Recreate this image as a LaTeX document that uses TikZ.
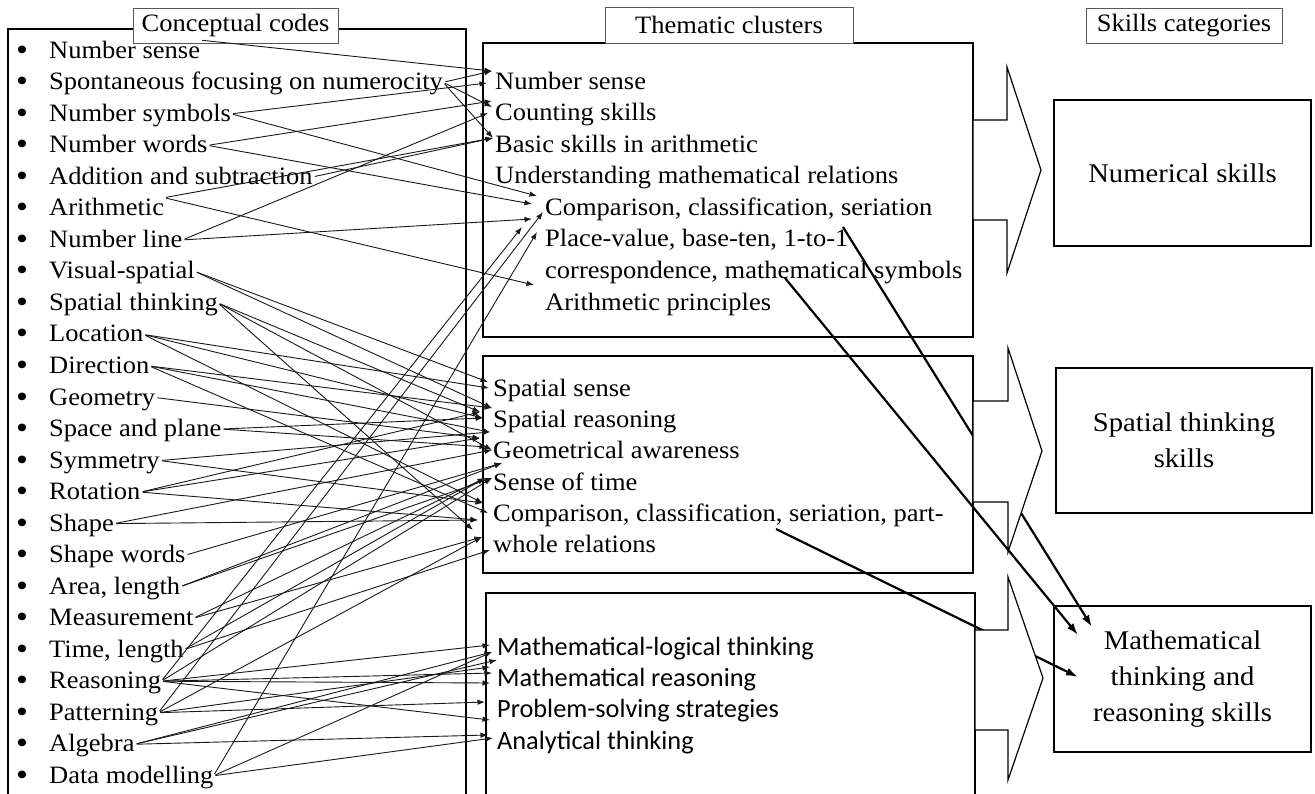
\documentclass[tikz,border=0pt]{standalone}
\usepackage{fontspec}
\setmainfont[FakeStretch=1.06]{Liberation Serif}
\newfontfamily\clusterfont{Carlito}
\usetikzlibrary{arrows.meta}

\begin{document}
\begin{tikzpicture}[x=1pt,y=-1pt,
  txt/.style={anchor=base west, inner sep=0pt, text height=18pt, text depth=3pt,
              font=\fontsize{25}{30}\selectfont},
  sanstxt/.style={txt, font=\clusterfont\fontsize{26.3}{30}\selectfont},
  dot/.style={anchor=base, inner sep=0pt, font=\fontsize{32}{36}\selectfont},
  frame/.style={line width=1.3pt},
  tag/.style={draw=black!65, line width=0.8pt, fill=white, inner sep=0pt,
              font=\fontsize{25}{30}\selectfont},
  catbox/.style={draw, line width=1.3pt, align=center, inner sep=0pt,
                 font=\fontsize{27}{36}\selectfont},
  link/.style={draw=black!90, line width=0.9pt, -{Latex[length=7.5pt,width=5.5pt]}, shorten <=2pt},
  biglink/.style={line width=2.2pt, -{Latex[length=12pt,width=8pt]}},
  blockarrow/.style={draw, line width=1.2pt, fill=white, line join=miter}
]
\useasboundingbox (0,0) rectangle (1315,793);

% column frames
\draw[frame] (8,800) -- (8,29) -- (466,29) -- (466,800);
\draw[frame] (483,43) rectangle (973,337);
\draw[frame] (483,356) rectangle (973,573);
\draw[frame] (486,800) -- (486,593) -- (975,593) -- (975,800);

% column headings
\node[tag, minimum width=205pt, minimum height=35pt] (hdA) at (235.5,25.5) {Conceptual codes};
\node[tag, minimum width=248pt, minimum height=36pt] (hdB) at (729,25) {Thematic clusters};
\node[tag, minimum width=196pt, minimum height=35pt] (hdC) at (1184,25.5) {Skills categories};

% conceptual codes
\foreach \t [count=\i from 0] in {Number sense, Spontaneous focusing on numerocity,
  Number symbols, Number words, Addition and subtraction, Arithmetic, Number line,
  Visual-spatial, Spatial thinking, Location, Direction, Geometry, Space and plane,
  Symmetry, Rotation, Shape, Shape words, {Area, length}, Measurement, {Time, length},
  Reasoning, Patterning, Algebra, Data modelling}{
  \node[dot] (bl\i) at (22,{60.3+31.52*\i}) {•};
  \node[txt] (ls\i) at (49,{58.3+31.52*\i}) {\t};
}

% thematic clusters: numbers
\node[txt] (m0) at (495,89.3) {Number sense};
\node[txt] (m1) at (495,120.8) {Counting skills};
\node[txt] (m2) at (495,152.3) {Basic skills in arithmetic};
\node[txt] (m3) at (495,183.8) {Understanding mathematical relations};
\node[txt] (m4) at (545,215.4) {Comparison, classification, seriation};
\node[txt] (m5) at (545,246.9) {Place-value, base-ten, 1-to-1};
\node[txt] (m6) at (545,278.4) {correspondence, mathematical symbols};
\node[txt] (m7) at (545,310) {Arithmetic principles};

% thematic clusters: space
\node[txt] (n0) at (493,396.7) {Spatial sense};
\node[txt] (n1) at (493,427.5) {Spatial reasoning};
\node[txt] (n2) at (493,458.5) {Geometrical awareness};
\node[txt] (n3) at (493,490) {Sense of time};
\node[txt] (n4) at (493,521.5) {Comparison, classification, seriation, part-};
\node[txt] (n5) at (493,552.7) {whole relations};

% thematic clusters: reasoning
\node[sanstxt] (p0) at (497,655) {Mathematical-logical thinking};
\node[sanstxt] (p1) at (497,686.5) {Mathematical reasoning};
\node[sanstxt] (p2) at (497,717.8) {Problem-solving strategies};
\node[sanstxt] (p3) at (497,749) {Analytical thinking};

% skills categories
\node[catbox, minimum width=257pt, minimum height=146pt] (r1) at (1182.5,173) {Numerical skills};
\node[catbox, minimum width=256pt, minimum height=145pt] (r2) at (1184,440.5) {Spatial thinking\\skills};
\node[catbox, minimum width=257pt, minimum height=146pt] (r3) at (1182.5,679) {Mathematical\\thinking and\\reasoning skills};

% arrow tips in the number cluster
\coordinate (a1) at (492,71);  \coordinate (a2) at (487,83);
\coordinate (a3) at (492,101); \coordinate (a4) at (492,107);
\coordinate (a5) at (488,113); \coordinate (a6) at (493,138);
\coordinate (a7) at (537,196); \coordinate (a8) at (532,204);
\coordinate (a9) at (532,219); \coordinate (a10) at (543,212);
\coordinate (a11) at (522,227); \coordinate (a12) at (537,232);
\coordinate (a13) at (534,285);

% arrow tips in the space cluster
\coordinate (b1) at (488,382);  \coordinate (b2) at (489,388);
\coordinate (b3) at (492,408);  \coordinate (b4) at (480,412);
\coordinate (b5) at (483,418);  \coordinate (b6) at (490,432);
\coordinate (b7) at (480,438);  \coordinate (b8) at (487,447);
\coordinate (b9) at (492,450);  \coordinate (b10) at (502,463);
\coordinate (b11) at (485,478); \coordinate (b12) at (492,478);
\coordinate (b13) at (483,503); \coordinate (b14) at (488,513);
\coordinate (b15) at (478,520); \coordinate (b16) at (473,530);
\coordinate (b17) at (482,537); \coordinate (b18) at (490,550);

% arrow tips in the reasoning cluster
\coordinate (c1) at (490,645); \coordinate (c2) at (492,652);
\coordinate (c3) at (497,660); \coordinate (c4) at (490,667);
\coordinate (c5) at (492,673); \coordinate (c6) at (490,683);
\coordinate (c7) at (485,702); \coordinate (c8) at (490,720);
\coordinate (c9) at (488,735); \coordinate (c10) at (493,738);

% codes -> number cluster
\draw[link] (ls0.north east) -- (a1);
\draw[link] (ls1.east) -- (a1);
\draw[link] (ls1.east) -- (a4);
\draw[link] (ls1.east) -- (a6);
\draw[link] (ls2.east) -- (a2);
\draw[link] (ls2.east) -- (a7);
\draw[link] (ls3.east) -- (a3);
\draw[link] (ls3.east) -- (a8);
\draw[link] (ls4.east) -- (a6);
\draw[link] (ls5.north east) -- (a6);
\draw[link] (ls5.north east) -- (a13);
\draw[link] (ls6.east) -- (a5);
\draw[link] (ls6.east) -- (a9);
\draw[link] (ls21.east) -- (a10);
\draw[link] (ls20.east) -- (a11);
\draw[link] (ls23.east) -- (a12);

% codes -> space cluster
\draw[link] (ls7.east) -- (b1);
\draw[link] (ls7.east) -- (b3);
\draw[link] (ls8.east) -- (b4);
\draw[link] (ls8.east) -- (b9);
\draw[link] (ls8.east) -- (b16);
\draw[link] (ls9.east) -- (b2);
\draw[link] (ls9.east) -- (b5);
\draw[link] (ls9.east) -- (b13);
\draw[link] (ls10.east) -- (b3);
\draw[link] (ls10.east) -- (b6);
\draw[link] (ls10.east) -- (b14);
\draw[link] (ls11.east) -- (b7);
\draw[link] (ls12.east) -- (b5);
\draw[link] (ls12.east) -- (b8);
\draw[link] (ls13.east) -- (b13);
\draw[link] (ls13.east) -- (b6);
\draw[link] (ls14.east) -- (b4);
\draw[link] (ls14.east) -- (b7);
\draw[link] (ls14.east) -- (b15);
\draw[link] (ls15.east) -- (b15);
\draw[link] (ls15.east) -- (b9);
\draw[link] (ls16.east) -- (b10);
\draw[link] (ls17.east) -- (b10);
\draw[link] (ls17.east) -- (b12);
\draw[link] (ls18.east) -- (b11);
\draw[link] (ls18.east) -- (b17);
\draw[link] (ls19.east) -- (b11);
\draw[link] (ls19.east) -- (b18);
\draw[link] (ls20.east) -- (b12);
\draw[link] (ls21.east) -- (b17);

% codes -> reasoning cluster
\draw[link] (ls20.east) -- (c1);
\draw[link] (ls20.east) -- (c5);
\draw[link] (ls20.east) -- (c6);
\draw[link] (ls20.east) -- (c8);
\draw[link] (ls21.east) -- (c7);
\draw[link] (ls21.east) -- (c4);
\draw[link] (ls22.east) -- (c2);
\draw[link] (ls22.east) -- (c3);
\draw[link] (ls22.east) -- (c9);
\draw[link] (ls23.east) -- (c2);
\draw[link] (ls23.east) -- (c10);

% cross links into the reasoning category
\coordinate (s1) at (843,227); \coordinate (e1) at (1092,627);
\coordinate (s2) at (785,278); \coordinate (e2) at (1078,635);
\coordinate (s3) at (776,529); \coordinate (e3) at (1078,677);
\draw[biglink] (s1) -- (e1);
\draw[biglink] (s2) -- (e2);
\draw[biglink] (s3) -- (e3);

% block arrows from clusters to categories
\draw[blockarrow] (973,120) -- (1007,120) -- (1007,67) -- (1041,170) -- (1007,273) -- (1007,220) -- (973,220) -- cycle;
\draw[blockarrow] (973,401) -- (1008,401) -- (1008,348) -- (1042,451) -- (1008,552) -- (1008,502) -- (973,502) -- cycle;
\draw[blockarrow] (975,630) -- (1008,630) -- (1008,577) -- (1043,678) -- (1008,780) -- (1008,730) -- (975,730) -- cycle;
\end{tikzpicture}
\end{document}
